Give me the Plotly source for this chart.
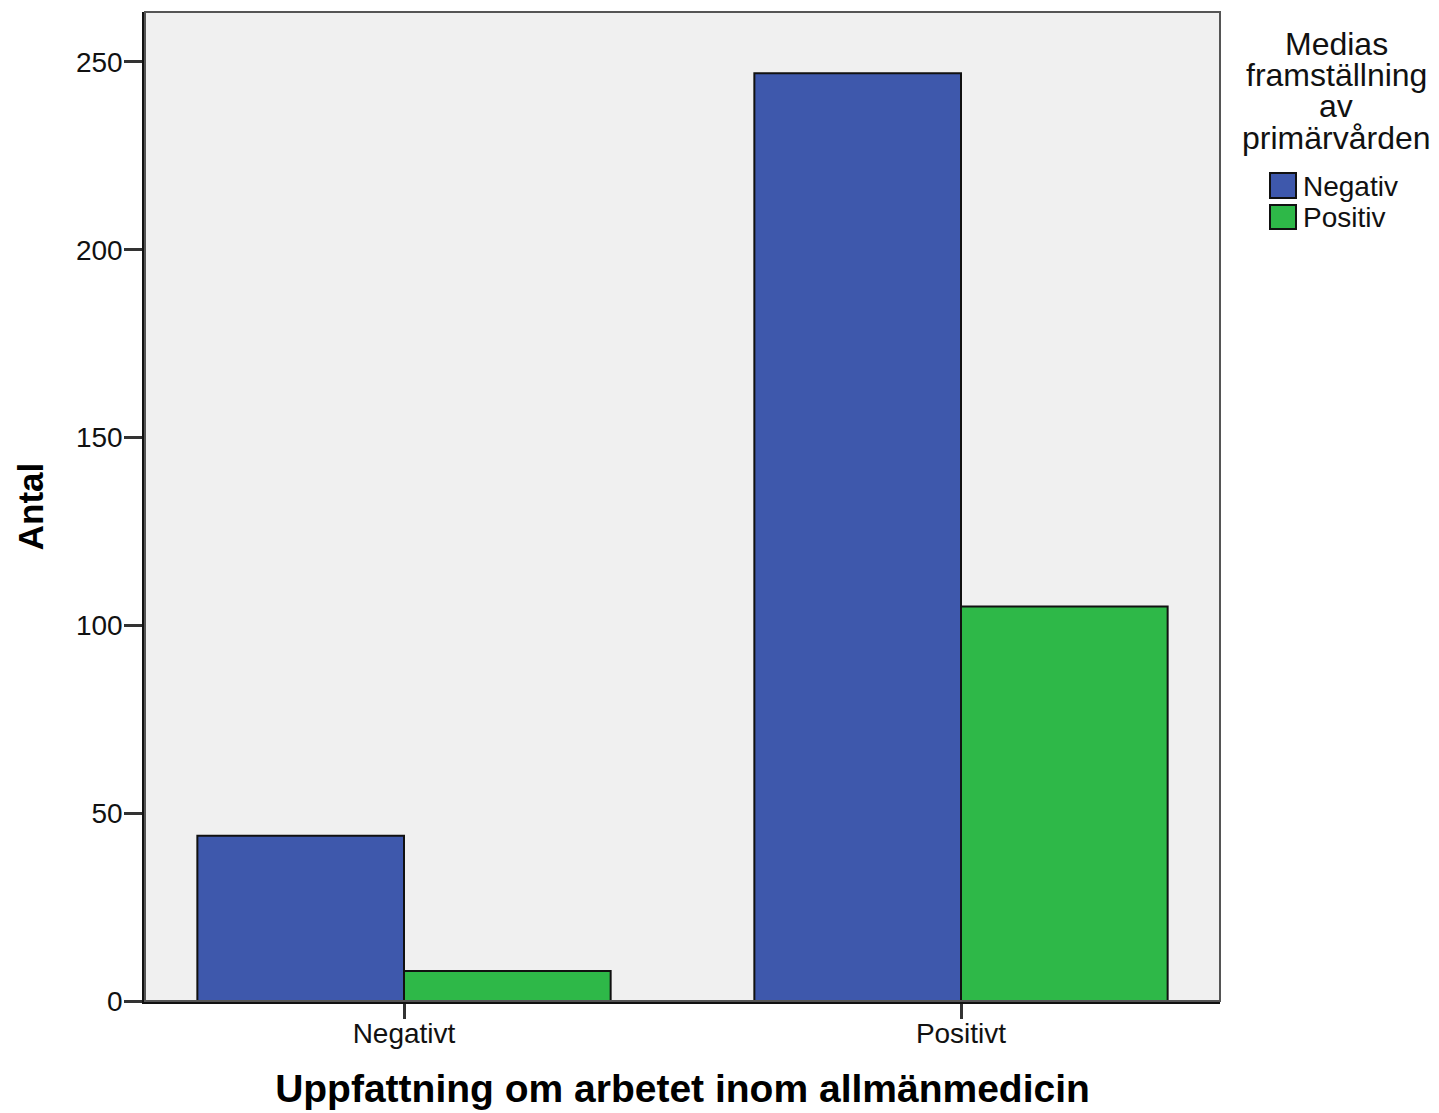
import plotly.graph_objects as go

categories = ["Negativt", "Positivt"]
series_names = ["Negativ", "Positiv"]
negativ_values = [44, 247]
positiv_values = [8, 105]
y_ticks = [0, 50, 100, 150, 200, 250]
legend_title_lines = ["Medias", "framställning", "av", "primärvården"]
x_title = "Uppfattning om arbetet inom allmänmedicin"
y_title = "Antal"
colors = ["#3E58AC", "#2EB848"]

OFF = 8  # page body margin offset
W, H = 1439 - OFF, 1113 - OFF
L, T = 145 - OFF, 12 - OFF
R = 1439 - 1220
B = 1113 - 1001
pw, ph = W - L - R, H - T - B

def px_x(p):
    return (p - OFF - L) / pw

def px_y(p):
    return (H - B - (p - OFF)) / ph

fig = go.Figure()
for name, vals, col in zip(series_names, [negativ_values, positiv_values], colors):
    fig.add_trace(go.Bar(
        x=categories, y=vals, name=name,
        marker=dict(color=col, line=dict(color="#111111", width=2)),
        showlegend=False,
    ))

font_family = "Liberation Sans, Arial, sans-serif"

fig.update_layout(
    width=W, height=H,
    margin=dict(l=L, r=R, t=T, b=B, pad=0),
    paper_bgcolor="white",
    plot_bgcolor="#F0F0F0",
    barmode="group",
    bargap=0.258,
    bargroupgap=0,
    font=dict(family=font_family, color="#111111"),
    xaxis=dict(
        range=[-0.465, 1.465],
        showgrid=False, zeroline=False,
        showline=True, linecolor="#111111", linewidth=2.5,
        ticks="outside", ticklen=15, tickwidth=2.5, tickcolor="#333333",
        ticklabelstandoff=-9,
        tickfont=dict(size=28, color="#111111"),
        title=dict(text="<b>" + x_title + "</b>", font=dict(size=39, color="#000000"), standoff=27),
    ),
    yaxis=dict(
        range=[0, 263.3],
        tickvals=y_ticks,
        showgrid=False, zeroline=False,
        showline=True, linecolor="#111111", linewidth=2.5,
        ticks="outside", ticklen=18, tickwidth=2.5, tickcolor="#333333",
        ticklabelstandoff=-4,
        tickfont=dict(size=28, color="#111111"),
        title=dict(text="<b>" + y_title + "</b>", font=dict(size=35, color="#000000"), standoff=22),
    ),
)

# plot frame (top and right)
fig.add_shape(type="rect", xref="paper", yref="paper", x0=0, y0=0, x1=1, y1=1,
              line=dict(color="#555555", width=2), layer="above")

# legend title lines
title_y = [44, 75, 106, 138]
for txt, py in zip(legend_title_lines, title_y):
    fig.add_annotation(xref="paper", yref="paper", x=px_x(1336), y=px_y(py),
                       text=txt, showarrow=False, xanchor="center", yanchor="middle",
                       font=dict(size=32, color="#111111", family=font_family))

# legend items
box_y = [(173, 198), (205, 229)]
for name, col, (y0, y1) in zip(series_names, colors, box_y):
    fig.add_shape(type="rect", xref="paper", yref="paper",
                  x0=px_x(1270), x1=px_x(1296), y0=px_y(y1), y1=px_y(y0),
                  fillcolor=col, line=dict(color="#111111", width=2))
    fig.add_annotation(xref="paper", yref="paper", x=px_x(1301), y=px_y((y0 + y1) / 2 + 1),
                       text=name, showarrow=False, xanchor="left", yanchor="middle",
                       font=dict(size=28, color="#111111", family=font_family))

fig.write_html("out.html")
